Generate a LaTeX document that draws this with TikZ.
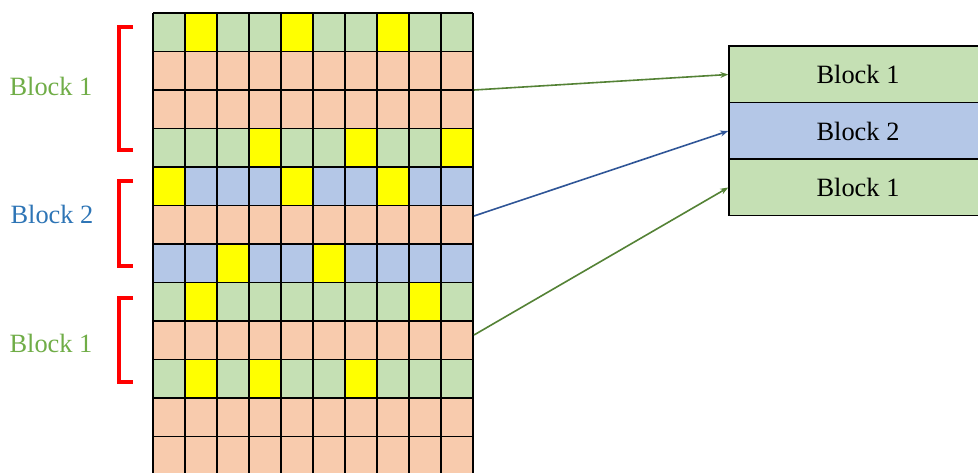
\documentclass[tikz,border=0pt]{standalone}
\usepackage{fontspec}
\setmainfont{Liberation Serif}
\usetikzlibrary{arrows.meta}
\definecolor{cellgreen}{HTML}{C5E0B4}
\definecolor{cellsalmon}{HTML}{F8CBAD}
\definecolor{cellblue}{HTML}{B4C7E7}
\definecolor{cellyellow}{HTML}{FFFF00}
\definecolor{labgreen}{HTML}{70AD47}
\definecolor{labblue}{HTML}{2E75B6}
\definecolor{arrgreen}{HTML}{548235}
\definecolor{arrblue}{HTML}{2F5597}
\begin{document}
\begin{tikzpicture}[x=1bp,y=-1bp,
  gridline/.style={black,line width=1.5bp},
  bracket/.style={red,line width=3.5bp},
  sidelabel/.style={font=\fontsize{26.5}{30}\selectfont,inner sep=0pt},
  blockbox/.style={draw=black,line width=1.5bp,minimum width=258bp,minimum height=56.5bp,
    inner sep=0pt,font=\fontsize{26.5}{30}\selectfont},
  link/.style={line width=1.6bp,-{Stealth[length=8bp,width=6bp]}}]
\clip (0,0) rectangle (978,473);
\fill[white] (0,0) rectangle (978,473);
% row backgrounds
\foreach \r/\c in {0/cellgreen,1/cellsalmon,2/cellsalmon,3/cellgreen,4/cellblue,5/cellsalmon,
                   6/cellblue,7/cellgreen,8/cellsalmon,9/cellgreen,10/cellsalmon,11/cellsalmon}
  \fill[\c] (153,13+38.5*\r) rectangle (473,13+38.5*\r+38.5);
% yellow cells (row/column)
\foreach \r/\k in {0/1,0/4,0/7,3/3,3/6,3/9,4/0,4/4,4/7,6/2,6/5,7/1,7/8,9/1,9/3,9/6}
  \fill[cellyellow] (153+32*\k,13+38.5*\r) rectangle (153+32*\k+32,13+38.5*\r+38.5);
% grid lines
\foreach \k in {0,...,10}
  \draw[gridline] (153+32*\k,13) -- (153+32*\k,480);
\foreach \r in {0,...,12}
  \draw[gridline] (153,13+38.5*\r) -- (473,13+38.5*\r);
% brackets and side labels
\draw[bracket] (133,27) -- (119,27) -- (119,150) -- (133,150);
\draw[bracket] (133,181) -- (119,181) -- (119,266) -- (133,266);
\draw[bracket] (133,298) -- (119,298) -- (119,382) -- (133,382);
\node[sidelabel,text=labgreen] (l1) at (51,86) {Block 1};
\node[sidelabel,text=labblue] (l2) at (52,214) {Block 2};
\node[sidelabel,text=labgreen] (l3) at (51,343) {Block 1};
% stacked blocks
\node[blockbox,fill=cellgreen] (b1) at (858,74.5) {Block 1};
\node[blockbox,fill=cellblue] (b2) at (858,131) {Block 2};
\node[blockbox,fill=cellgreen] (b3) at (858,187.5) {Block 1};
% connectors
\coordinate (s1) at (474,90);
\coordinate (s2) at (474,216);
\coordinate (s3) at (474,335);
\draw[link,arrgreen] (s1) -- (b1.west);
\draw[link,arrblue] (s2) -- (b2.west);
\draw[link,arrgreen] (s3) -- (b3.west);
\end{tikzpicture}
\end{document}
